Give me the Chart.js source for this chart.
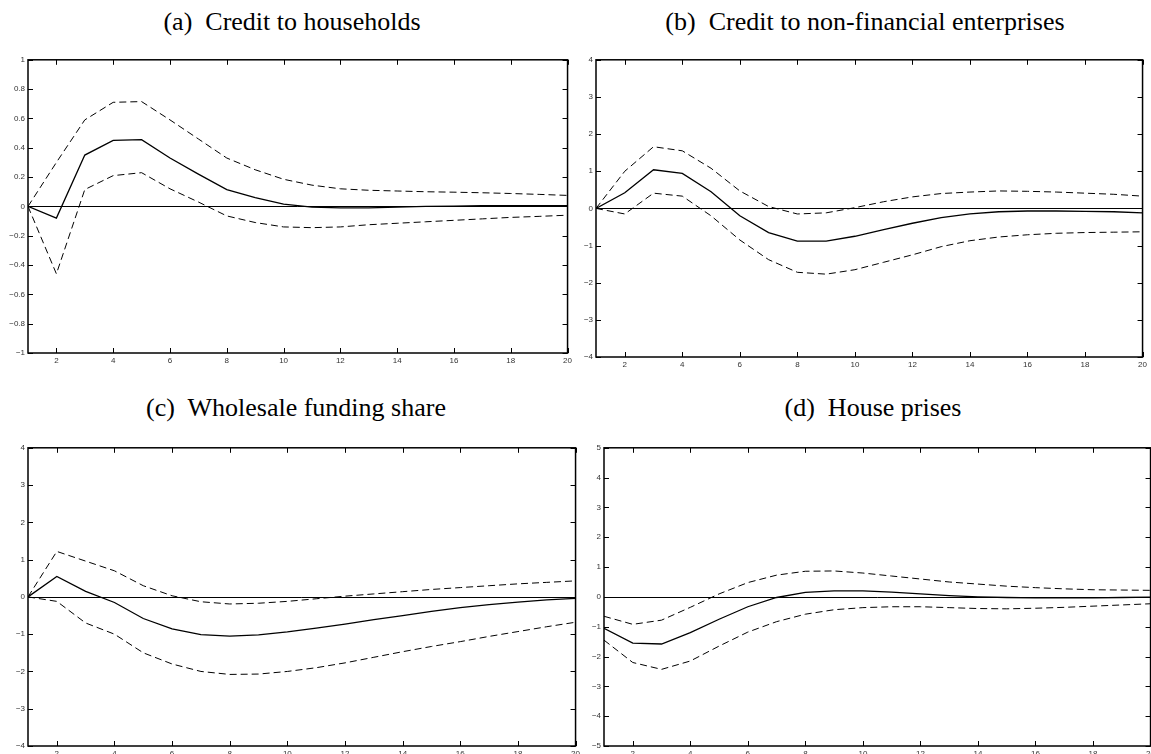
<!DOCTYPE html>
<html>
<head>
<meta charset="utf-8">
<script src="https://cdn.jsdelivr.net/npm/chart.js@4.4.1/dist/chart.umd.min.js"></script>
<style>
  html, body { margin: 0; padding: 0; background: #fff; overflow: hidden; }
  body { width: 1151px; height: 754px; position: relative; }
  .ttl {
    position: absolute;
    font-family: "Liberation Serif", "Times New Roman", serif;
    font-size: 26px;
    line-height: 26px;
    white-space: pre;
    transform: translateX(-50%);
    color: #000;
  }
  canvas { position: absolute; }
</style>
</head>
<body>
<div class="ttl" style="left:292px; top:9px">(a)  Credit to households</div>
<div class="ttl" style="left:865px; top:9px">(b)  Credit to non-financial enterprises</div>
<div class="ttl" style="left:296px; top:395px">(c)  Wholesale funding share</div>
<div class="ttl" style="left:873px; top:395px">(d)  House prises</div>

<canvas id="chartA"></canvas>
<canvas id="chartB"></canvas>
<canvas id="chartC"></canvas>
<canvas id="chartD"></canvas>

<script>
// ----------------------------
// Горизонт и деления
// ----------------------------
const steps = [1, 2, 3, 4, 5, 6, 7, 8, 9, 10, 11, 12, 13, 14, 15, 16, 17, 18, 19, 20];
const xTicks = [2, 4, 6, 8, 10, 12, 14, 16, 18, 20];

const hhTicks = [-1, -0.8, -0.6, -0.4, -0.2, 0, 0.2, 0.4, 0.6, 0.8, 1];
const nfeTicks = [-4, -3, -2, -1, 0, 1, 2, 3, 4];
const wfTicks = [-4, -3, -2, -1, 0, 1, 2, 3, 4];
const hpTicks = [-5, -4, -3, -2, -1, 0, 1, 2, 3, 4, 5];

// ----------------------------
// (a) Credit to households
// ----------------------------
const hhMid = [0, -0.08, 0.35, 0.45, 0.455, 0.33, 0.22, 0.115, 0.06, 0.015, -0.005, -0.01, -0.01, -0.005, 0, 0.002, 0.005, 0.005, 0.005, 0.005];
const hhUp  = [0, 0.30, 0.59, 0.71, 0.715, 0.59, 0.46, 0.33, 0.25, 0.185, 0.145, 0.12, 0.11, 0.105, 0.10, 0.097, 0.093, 0.088, 0.082, 0.075];
const hhLo  = [0, -0.46, 0.115, 0.21, 0.23, 0.12, 0.03, -0.065, -0.11, -0.14, -0.145, -0.14, -0.125, -0.115, -0.105, -0.095, -0.085, -0.075, -0.068, -0.06];

// ----------------------------
// (b) Credit to non-financial enterprises
// ----------------------------
const nfeMid = [0, 0.42, 1.04, 0.94, 0.45, -0.2, -0.65, -0.88, -0.88, -0.75, -0.57, -0.4, -0.25, -0.15, -0.09, -0.07, -0.07, -0.08, -0.09, -0.12];
const nfeUp  = [0, 1.0, 1.66, 1.55, 1.08, 0.47, 0.05, -0.15, -0.12, 0.02, 0.18, 0.31, 0.4, 0.44, 0.47, 0.46, 0.44, 0.41, 0.38, 0.33];
const nfeLo  = [0, -0.15, 0.41, 0.33, -0.2, -0.85, -1.38, -1.72, -1.77, -1.65, -1.45, -1.25, -1.03, -0.87, -0.77, -0.71, -0.67, -0.65, -0.64, -0.63];

// ----------------------------
// (c) Wholesale funding share
// ----------------------------
const wfMid = [0, 0.55, 0.15, -0.15, -0.58, -0.86, -1.01, -1.05, -1.02, -0.94, -0.84, -0.73, -0.61, -0.5, -0.39, -0.29, -0.21, -0.14, -0.08, -0.04];
const wfUp  = [0, 1.22, 0.96, 0.7, 0.3, 0.03, -0.13, -0.19, -0.17, -0.12, -0.05, 0.02, 0.08, 0.14, 0.2, 0.25, 0.3, 0.35, 0.39, 0.43];
const wfLo  = [0, -0.12, -0.7, -1.0, -1.5, -1.8, -2.0, -2.08, -2.07, -2.0, -1.9, -1.77, -1.62, -1.47, -1.33, -1.2, -1.06, -0.93, -0.8, -0.68];

// ----------------------------
// (d) House prises
// ----------------------------
const hpMid = [-1.05, -1.55, -1.58, -1.2, -0.75, -0.33, -0.02, 0.15, 0.2, 0.2, 0.16, 0.1, 0.04, 0, -0.02, -0.03, -0.03, -0.03, -0.02, -0.01];
const hpUp  = [-0.65, -0.92, -0.78, -0.35, 0.1, 0.48, 0.73, 0.86, 0.87, 0.8, 0.7, 0.6, 0.5, 0.43, 0.36, 0.31, 0.27, 0.24, 0.23, 0.22];
const hpLo  = [-1.45, -2.2, -2.43, -2.15, -1.65, -1.18, -0.83, -0.58, -0.43, -0.36, -0.33, -0.33, -0.36, -0.39, -0.4, -0.38, -0.35, -0.31, -0.27, -0.23];

// ----------------------------
// Рамка, нулевая линия и внутренние засечки (как в MATLAB)
// ----------------------------
const framePlugin = {
    id: "frame",
    beforeDatasetsDraw(chart) {
        const { ctx, chartArea: a, scales: { y } } = chart;
        const y0 = Math.round(y.getPixelForValue(0)) + 0.5;
        ctx.save();
        ctx.strokeStyle = "#000";
        ctx.lineWidth = 1;
        ctx.beginPath();
        ctx.moveTo(a.left, y0);
        ctx.lineTo(a.right, y0);
        ctx.stroke();
        ctx.restore();
    },
    afterDraw(chart) {
        const { ctx, chartArea: a, scales: { x, y } } = chart;
        const len = 5;
        ctx.save();
        ctx.strokeStyle = "#000";
        ctx.lineWidth = 1;
        ctx.beginPath();
        x.ticks.forEach(t => {
            const px = Math.round(x.getPixelForValue(t.value)) + 0.5;
            ctx.moveTo(px, a.top);
            ctx.lineTo(px, a.top + len);
            ctx.moveTo(px, a.bottom);
            ctx.lineTo(px, a.bottom - len);
        });
        y.ticks.forEach(t => {
            const py = Math.round(y.getPixelForValue(t.value)) + 0.5;
            ctx.moveTo(a.left, py);
            ctx.lineTo(a.left + len, py);
            ctx.moveTo(a.right, py);
            ctx.lineTo(a.right - len, py);
        });
        ctx.stroke();
        ctx.lineWidth = 1.5;
        ctx.strokeRect(a.left, a.top, a.right - a.left, a.bottom - a.top);
        ctx.restore();
    }
};

function fmt(v) {
    const s = String(Math.round(Math.abs(v) * 10) / 10);
    return v < 0 ? "\u2212" + s : s;
}

function pts(values) {
    return steps.map((s, i) => ({ x: s, y: values[i] }));
}

// ----------------------------
// Построение одной панели
// ----------------------------
const Y_W = 26, X_H = 18, PAD_T = 6, PAD_R = 6;

function makePanel(id, box, yTicks, mid, lo, up) {
    const [L, T, R, B] = box;
    const cv = document.getElementById(id);
    cv.width = R - L + Y_W + PAD_R;
    cv.height = B - T + PAD_T + X_H;
    cv.style.left = (L - Y_W) + "px";
    cv.style.top = (T - PAD_T) + "px";

    const tickFont = { family: "'Liberation Sans', Arial, sans-serif", size: 8 };

    return new Chart(cv, {
        type: "line",
        data: {
            datasets: [
                { data: pts(mid), borderColor: "#000", borderWidth: 1.3 },
                { data: pts(up), borderColor: "#000", borderWidth: 1, borderDash: [7, 4] },
                { data: pts(lo), borderColor: "#000", borderWidth: 1, borderDash: [7, 4] }
            ]
        },
        options: {
            responsive: false,
            animation: false,
            events: [],
            layout: { padding: { top: PAD_T, right: PAD_R, left: 0, bottom: 0 } },
            elements: { point: { radius: 0 }, line: { tension: 0 } },
            plugins: { legend: { display: false }, tooltip: { enabled: false } },
            scales: {
                x: {
                    type: "linear",
                    min: 1,
                    max: 20,
                    grid: { display: false, drawTicks: false },
                    border: { display: false },
                    ticks: { font: tickFont, color: "#333", padding: 3, maxRotation: 0, callback: v => fmt(v) },
                    afterBuildTicks: s => { s.ticks = xTicks.map(v => ({ value: v })); },
                    afterFit: s => { s.height = X_H; }
                },
                y: {
                    min: yTicks[0],
                    max: yTicks[yTicks.length - 1],
                    grid: { display: false, drawTicks: false },
                    border: { display: false },
                    ticks: { font: tickFont, color: "#333", padding: 3, callback: v => fmt(v) },
                    afterBuildTicks: s => { s.ticks = yTicks.map(v => ({ value: v })); },
                    afterFit: s => { s.width = Y_W; }
                }
            }
        },
        plugins: [framePlugin]
    });
}

makePanel("chartA", [28, 58, 569, 353], hhTicks, hhMid, hhLo, hhUp);
makePanel("chartB", [596, 58, 1144, 357], nfeTicks, nfeMid, nfeLo, nfeUp);
makePanel("chartC", [28, 446, 577, 746], wfTicks, wfMid, wfLo, wfUp);
makePanel("chartD", [604, 446, 1152, 746], hpTicks, hpMid, hpLo, hpUp);
</script>
</body>
</html>
